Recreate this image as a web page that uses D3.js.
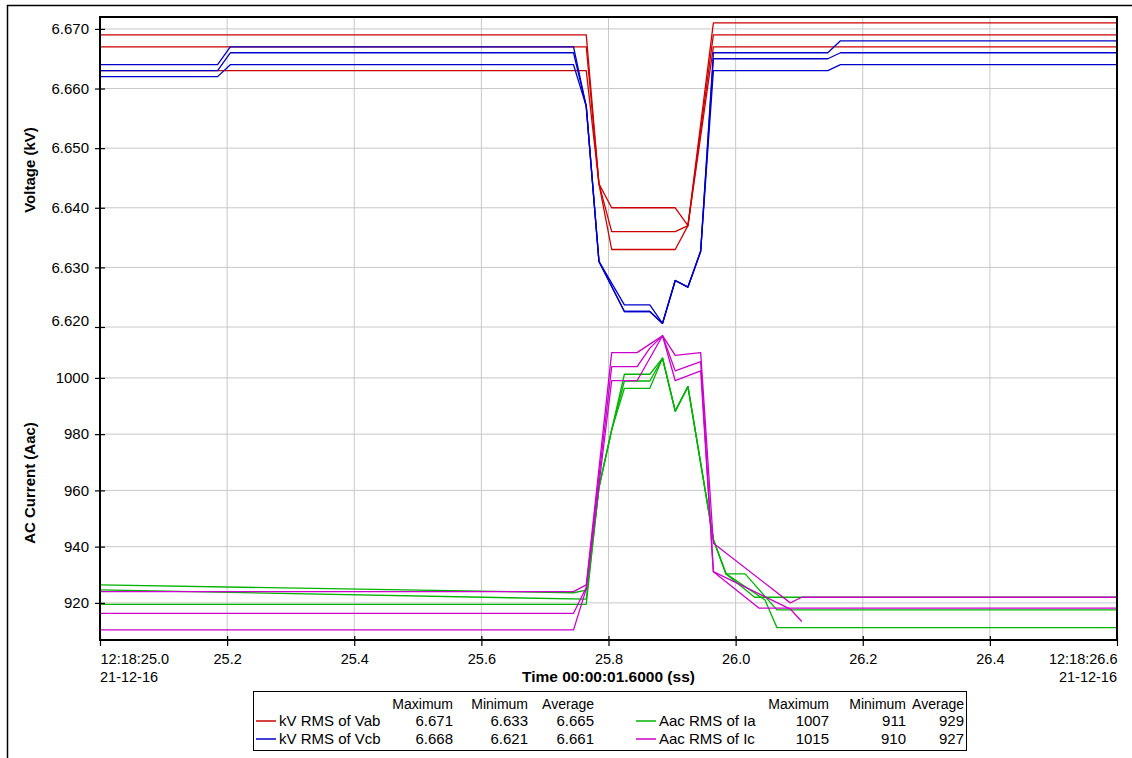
<!DOCTYPE html>
<html>
<head>
<meta charset="utf-8">
<script src="https://cdn.jsdelivr.net/npm/d3@7/dist/d3.min.js"></script>
<style>
  html, body { margin: 0; padding: 0; background: #fff; }
  svg { display: block; font-family: "Liberation Sans", Arial, sans-serif; }
  .grid line { stroke: #c8c8c8; stroke-width: 1; }
  .axis text { fill: #000; }
  .axis line { stroke: #000; stroke-width: 1.2; }
  .trace { fill: none; stroke-width: 1.3; stroke-linejoin: round; }
</style>
</head>
<body>
<svg id="chart" width="1132" height="758"></svg>
<script>
// Time axis: seconds after 12:18:25.0 on 21-12-16
const timeTicks  = [0, 0.2, 0.4, 0.6, 0.8, 1.0, 1.2, 1.4, 1.6];
const timeLabels = ["12:18:25.0", "25.2", "25.4", "25.6", "25.8", "26.0", "26.2", "26.4", "12:18:26.6"];
const dateLabel  = "21-12-16";
const timeTitle  = "Time 00:00:01.6000 (ss)";

const voltTicks = [6.620, 6.630, 6.640, 6.650, 6.660, 6.670];
const currTicks = [920, 940, 960, 980, 1000];

// kV RMS of Vab : max / avg / min traces  [t (s), kV]
const vabMax = [[0, 6.669], [0.765, 6.669], [0.785, 6.644], [0.805, 6.640], [0.905, 6.640], [0.925, 6.637], [0.965, 6.671], [1.6, 6.671]];
const vabAvg = [[0, 6.667], [0.765, 6.667], [0.785, 6.644], [0.805, 6.636], [0.905, 6.636], [0.925, 6.637], [0.965, 6.669], [1.6, 6.669]];
const vabMin = [[0, 6.663], [0.765, 6.663], [0.785, 6.644], [0.805, 6.633], [0.905, 6.633], [0.925, 6.637], [0.965, 6.667], [1.6, 6.667]];

// kV RMS of Vcb
const vcbMax = [[0, 6.664], [0.185, 6.664], [0.205, 6.667], [0.745, 6.667], [0.765, 6.657], [0.785, 6.631], [0.825, 6.6237], [0.865, 6.6237], [0.885, 6.6206], [0.905, 6.6278], [0.925, 6.6267], [0.945, 6.6327], [0.965, 6.666], [1.145, 6.666], [1.165, 6.668], [1.6, 6.668]];
const vcbAvg = [[0, 6.663], [0.185, 6.663], [0.205, 6.666], [0.745, 6.666], [0.765, 6.657], [0.785, 6.631], [0.825, 6.6226], [0.865, 6.6226], [0.885, 6.6206], [0.905, 6.6278], [0.925, 6.6267], [0.945, 6.6327], [0.965, 6.665], [1.145, 6.665], [1.165, 6.666], [1.6, 6.666]];
const vcbMin = [[0, 6.662], [0.185, 6.662], [0.205, 6.664], [0.745, 6.664], [0.765, 6.657], [0.785, 6.631], [0.825, 6.6226], [0.865, 6.6226], [0.885, 6.6206], [0.905, 6.6278], [0.925, 6.6267], [0.945, 6.6327], [0.965, 6.663], [1.145, 6.663], [1.165, 6.664], [1.6, 6.664]];

// Aac RMS of Ia
const iaMax = [[0, 926.4], [0.745, 923.6], [0.765, 924.5], [0.785, 961], [0.805, 981.5], [0.825, 1001.3], [0.865, 1001.3], [0.885, 1007], [0.905, 988.2], [0.925, 996.9], [0.965, 942.5], [0.985, 930.3], [1.015, 930.3], [1.065, 917.5], [1.6, 917.5]];
const iaAvg = [[0, 924.6], [0.765, 921.3], [0.785, 961], [0.805, 981.5], [0.825, 998.9], [0.865, 998.9], [0.885, 1007], [0.905, 988.2], [0.925, 996.9], [0.965, 942.5], [0.985, 930.3], [1.03, 922], [1.6, 922]];
const iaMin = [[0, 919.5], [0.765, 919.5], [0.785, 961], [0.805, 981.5], [0.825, 996.3], [0.865, 996.3], [0.885, 1007], [0.905, 988.2], [0.925, 996.9], [0.965, 942.5], [0.985, 930.3], [1.046, 921.1], [1.065, 911.2], [1.6, 911.2]];

// Aac RMS of Ic
const icMax = [[0, 924], [0.745, 924], [0.765, 926.4], [0.805, 1009], [0.845, 1009], [0.865, 1012], [0.885, 1015], [0.905, 1008], [0.945, 1009], [0.965, 941.2], [1.086, 920], [1.104, 922], [1.6, 922]];
const icAvg = [[0, 916.3], [0.745, 916.3], [0.765, 925.5], [0.805, 1004], [0.845, 1004], [0.865, 1010.6], [0.885, 1015], [0.905, 1002.5], [0.945, 1005.8], [0.965, 931.1], [1.037, 918.1], [1.6, 918.1]];
const icMin = [[0, 910.4], [0.745, 910.4], [0.765, 925], [0.805, 999], [0.845, 999], [0.885, 1015], [0.905, 999], [0.945, 1002.5], [0.965, 931.1], [1.086, 917.8], [1.104, 913.4]];

// Legend table
const legendNames = ["kV RMS of Vab", "kV RMS of Vcb", "Aac RMS of Ia", "Aac RMS of Ic"];
const legendMax   = ["6.671", "6.668", "1007", "1015"];
const legendMin   = ["6.633", "6.621", "911", "910"];
const legendAvg   = ["6.665", "6.661", "929", "927"];
const legendHead  = ["Maximum", "Minimum", "Average"];

const colors = { vab: "#cc0000", vcb: "#0000cc", ia: "#00b400", ic: "#cc00cc" };

const svg = d3.select("#chart");
const L = 100, R = 1117, T = 17, B = 640, MID = 327;

const x  = d3.scaleLinear().domain([0, 1.6]).range([L, R]);
const yV = d3.scaleLinear().domain([6.620, 6.672]).range([MID, T]);
const yI = d3.scaleLinear().domain([906.8, 1018.1]).range([B, MID]);

// outer frame
svg.append("rect").attr("x", 7.5).attr("y", 5.5).attr("width", 1140).attr("height", 780)
  .attr("fill", "none").attr("stroke", "#000").attr("stroke-width", 1.5);

// grid
const grid = svg.append("g").attr("class", "grid");
grid.selectAll(".gv").data(timeTicks.slice(1, -1)).join("line")
  .attr("x1", d => x(d)).attr("x2", d => x(d)).attr("y1", T).attr("y2", B);
grid.selectAll(".gyv").data(voltTicks).join("line").attr("class", "gyv")
  .attr("x1", L).attr("x2", R).attr("y1", d => yV(d)).attr("y2", d => yV(d));
grid.selectAll(".gyi").data(currTicks).join("line").attr("class", "gyi")
  .attr("x1", L).attr("x2", R).attr("y1", d => yI(d)).attr("y2", d => yI(d));

// traces
const lineV = d3.line().x(d => x(d[0])).y(d => yV(d[1]));
const lineI = d3.line().x(d => x(d[0])).y(d => yI(d[1]));
const traces = svg.append("g");
[[vabMax, colors.vab], [vabAvg, colors.vab], [vabMin, colors.vab],
 [vcbMax, colors.vcb], [vcbAvg, colors.vcb], [vcbMin, colors.vcb]].forEach(([d, c]) =>
  traces.append("path").attr("class", "trace").attr("stroke", c).attr("d", lineV(d)));
[[iaMax, colors.ia], [iaAvg, colors.ia], [iaMin, colors.ia],
 [icMax, colors.ic], [icAvg, colors.ic], [icMin, colors.ic]].forEach(([d, c]) =>
  traces.append("path").attr("class", "trace").attr("stroke", c).attr("d", lineI(d)));

// plot frame
svg.append("rect").attr("x", L).attr("y", T).attr("width", R - L).attr("height", B - T)
  .attr("fill", "none").attr("stroke", "#000").attr("stroke-width", 2);

// y axes
function styleY(g) {
  g.select(".domain").remove();
  g.selectAll(".tick line").attr("x1", 5);
  g.selectAll(".tick text").attr("font-size", 15).attr("x", -11);
}
const axV = svg.append("g").attr("class", "axis").attr("transform", `translate(${L},0)`)
  .call(d3.axisLeft(yV).tickValues(voltTicks).tickFormat(d3.format(".3f")).tickSize(5))
  .call(styleY);
axV.selectAll(".tick").filter(d => d === 6.620).select("text").attr("y", -6);
svg.append("g").attr("class", "axis").attr("transform", `translate(${L},0)`)
  .call(d3.axisLeft(yI).tickValues(currTicks).tickFormat(d3.format("d")).tickSize(5))
  .call(styleY);

// x axis
const axX = svg.append("g").attr("class", "axis").attr("transform", `translate(0,${B})`)
  .call(d3.axisBottom(x).tickValues(timeTicks).tickFormat((d, i) => timeLabels[i]).tickSize(6).tickPadding(8));
axX.select(".domain").remove();
axX.selectAll(".tick line").attr("y1", -4);
axX.selectAll(".tick text").attr("font-size", 14.5)
  .attr("text-anchor", (d, i) => i === 0 ? "start" : (i === timeTicks.length - 1 ? "end" : "middle"));

svg.append("text").attr("x", L).attr("y", 682).attr("font-size", 14.5).text(dateLabel);
svg.append("text").attr("x", R).attr("y", 682).attr("font-size", 14.5).attr("text-anchor", "end").text(dateLabel);
svg.append("text").attr("x", x(0.8)).attr("y", 682).attr("font-size", 15.5).attr("font-weight", "bold")
  .attr("text-anchor", "middle").text(timeTitle);

// y titles
svg.append("text").attr("transform", "translate(35,170) rotate(-90)")
  .attr("text-anchor", "middle").attr("font-size", 15).attr("font-weight", "bold").text("Voltage (kV)");
svg.append("text").attr("transform", "translate(35,483) rotate(-90)")
  .attr("text-anchor", "middle").attr("font-size", 15).attr("font-weight", "bold").text("AC Current (Aac)");

// legend
const lg = svg.append("g").attr("font-size", 14);
lg.append("rect").attr("x", 253.5).attr("y", 691.5).attr("width", 713).attr("height", 59)
  .attr("fill", "#fff").attr("stroke", "#000").attr("stroke-width", 1);
const blocks = [
  { x0: 256, tx: 279, cols: [453, 528, 594], rows: [0, 1], c: [colors.vab, colors.vcb] },
  { x0: 636, tx: 659, cols: [829, 906, 964], rows: [2, 3], c: [colors.ia, colors.ic] }
];
blocks.forEach(b => {
  legendHead.forEach((h, j) => lg.append("text").attr("x", b.cols[j]).attr("y", 709)
    .attr("text-anchor", "end").text(h));
  b.rows.forEach((r, k) => {
    const yy = 721 + k * 18;
    lg.append("line").attr("x1", b.x0).attr("x2", b.x0 + 20).attr("y1", yy).attr("y2", yy)
      .attr("stroke", b.c[k]).attr("stroke-width", 1.5);
    lg.append("text").attr("x", b.tx).attr("y", yy + 5).attr("font-size", 15).text(legendNames[r]);
    [legendMax[r], legendMin[r], legendAvg[r]].forEach((v, j) =>
      lg.append("text").attr("x", b.cols[j]).attr("y", yy + 5).attr("text-anchor", "end").attr("font-size", 15).text(v));
  });
});
</script>
</body>
</html>
